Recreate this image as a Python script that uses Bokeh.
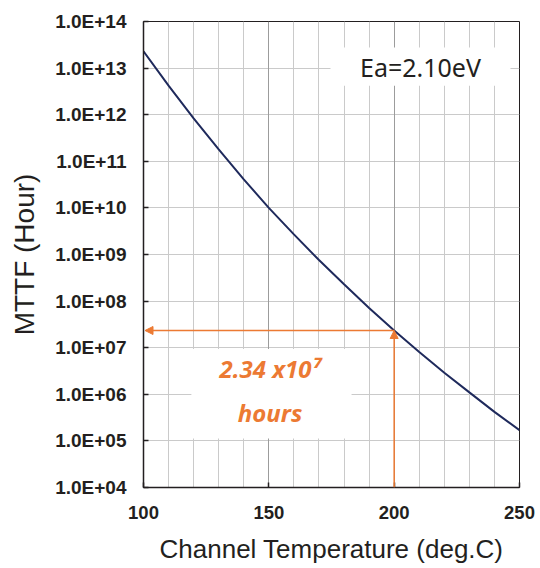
from bokeh.plotting import figure
from bokeh.models import Range1d, FixedTicker, Grid, Arrow, NormalHead
from bokeh.core.properties import value
from bokeh.embed import file_html
from bokeh.resources import INLINE

# ---- data ----
temperature_c = [100, 110, 120, 130, 140, 150, 160, 170, 180, 190, 200, 210, 220, 230, 240, 250]
mttf_hours = [2.3e13, 4.2e12, 8.3e11, 1.8e11, 4.1e10, 1.0e10, 2.7e9, 7.6e8, 2.3e8, 7.1e7,
              2.34e7, 8.1e6, 2.9e6, 1.1e6, 4.2e5, 1.7e5]

x_ticks = [100, 150, 200, 250]
x_minor_grid = [110, 120, 130, 140, 160, 170, 180, 190, 210, 220, 230, 240]
x_major_grid = [150, 200]
y_ticks = [1e4, 1e5, 1e6, 1e7, 1e8, 1e9, 1e10, 1e11, 1e12, 1e13, 1e14]
y_tick_labels = ["1.0E+04", "1.0E+05", "1.0E+06", "1.0E+07", "1.0E+08", "1.0E+09",
                 "1.0E+10", "1.0E+11", "1.0E+12", "1.0E+13", "1.0E+14"]

ea_label = "Ea=2.10eV"
highlight_temp = 200
highlight_mttf = 2.34e7
highlight_text = "2.34 x10\u2077"
highlight_unit = "hours"

# ---- styles ----
TXT = "#231f20"
ORANGE = "#ec7a33"
NAVY = "#1f2a5c"
GRID = "#cacaca"
GRID_DARK = "#9c9c9c"

p = figure(width=540, height=568,
           x_range=Range1d(100, 250), y_range=Range1d(1e4, 1e14),
           y_axis_type="log", output_backend="svg", toolbar_location=None,
           min_border_left=143, min_border_right=21, min_border_top=21, min_border_bottom=81,
           background_fill_color="white", border_fill_color="white")

p.outline_line_color = TXT
p.outline_line_width = 1

# grids
p.xgrid.ticker = FixedTicker(ticks=x_minor_grid)
p.xgrid.grid_line_color = GRID
p.xgrid.grid_line_width = 1
p.add_layout(Grid(dimension=0, ticker=FixedTicker(ticks=x_major_grid),
                  grid_line_color=GRID_DARK, grid_line_width=1))
p.ygrid.ticker = FixedTicker(ticks=y_ticks)
p.ygrid.grid_line_color = GRID
p.ygrid.grid_line_width = 1

# axes
for ax in (p.xaxis[0], p.yaxis[0]):
    ax.axis_line_color = TXT
    ax.axis_line_width = 1.5
    ax.major_tick_in = 5
    ax.major_tick_out = 0
    ax.major_tick_line_color = TXT
    ax.major_tick_line_width = 1.5
    ax.minor_tick_line_color = None
    ax.major_label_text_color = TXT
    ax.major_label_text_font = "Liberation Sans"
    ax.major_label_text_font_style = "bold"
    ax.axis_label_text_color = TXT
    ax.axis_label_text_font = "Liberation Sans"
    ax.axis_label_text_font_style = "normal"

p.xaxis.ticker = FixedTicker(ticks=x_ticks)
p.xaxis.major_label_text_font_size = "18.5px"
p.xaxis.major_label_standoff = 18
p.xaxis.axis_label = "Channel Temperature (deg.C)"
p.xaxis.axis_label_text_font_size = "26px"
p.xaxis.axis_label_standoff = 12

p.yaxis.ticker = FixedTicker(ticks=y_ticks)
p.yaxis.major_label_overrides = dict(zip(y_ticks, y_tick_labels))
p.yaxis.major_label_text_font_size = "19px"
p.yaxis.major_label_standoff = 17
p.yaxis.axis_label = "MTTF (Hour)"
p.yaxis.axis_label_text_font_size = "28px"
p.yaxis.axis_label_standoff = 12

# white boxes behind annotations
p.quad(left=[174.6, 119.1], right=[246.4, 183.0],
       bottom=[10 ** 12.62, 10 ** 5.05], top=[10 ** 13.44, 10 ** 6.97],
       fill_color="white", line_color=None)

# curve
p.line(temperature_c, mttf_hours, line_color=NAVY, line_width=2)

# texts
p.text(x=[210.5], y=[10 ** 13.03], text=[ea_label], text_font=value("Noto Sans"),
       text_font_size="25px", text_align="center", text_baseline="middle", text_color=TXT)
p.text(x=[150.5], y=[10 ** 6.55], text=[highlight_text], text_font=value("Noto Sans"),
       text_font_size="24px", text_font_style="bold italic",
       text_align="center", text_baseline="middle", text_color=ORANGE)
p.text(x=[150.5], y=[10 ** 5.6], text=[highlight_unit], text_font=value("Noto Sans"),
       text_font_size="24px", text_font_style="bold italic",
       text_align="center", text_baseline="middle", text_color=ORANGE)

# arrows
p.add_layout(Arrow(end=NormalHead(size=8, fill_color=ORANGE, line_color=ORANGE, line_width=1),
                   x_start=highlight_temp, y_start=highlight_mttf, x_end=100.6, y_end=highlight_mttf,
                   line_color=ORANGE, line_width=1.5))
p.add_layout(Arrow(end=NormalHead(size=8, fill_color=ORANGE, line_color=ORANGE, line_width=1),
                   x_start=highlight_temp, y_start=1e4, x_end=highlight_temp, y_end=highlight_mttf,
                   line_color=ORANGE, line_width=1.5))

open("out.html", "w").write(file_html(p, INLINE))
